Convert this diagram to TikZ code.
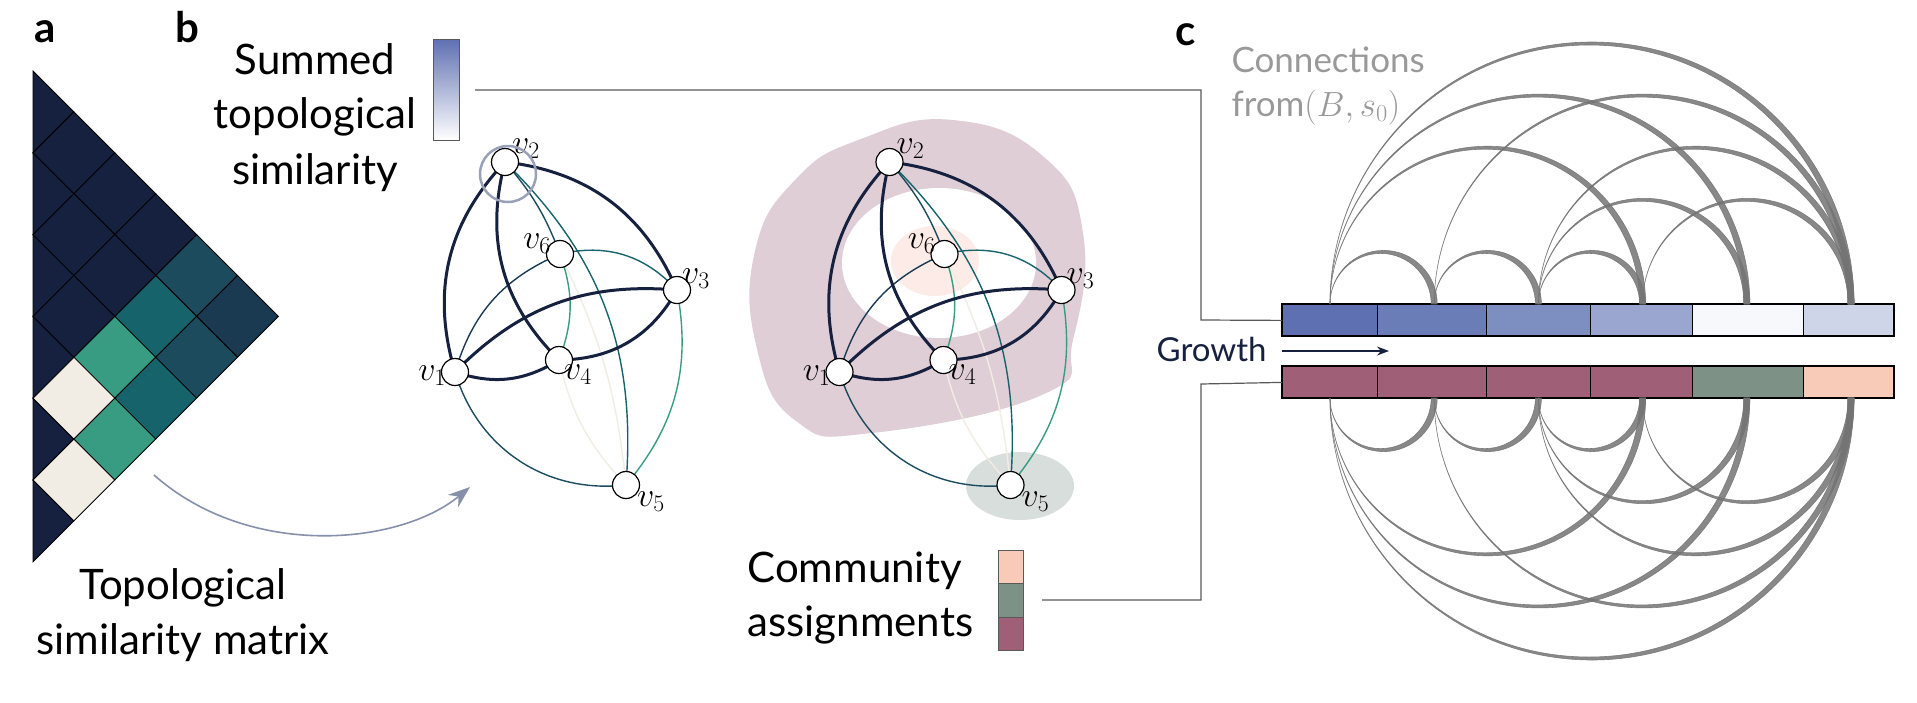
\RequirePackage{fix-cm}
\documentclass[tikz,border=0pt]{standalone}
\usepackage{fontspec}
\setmainfont{Lato}
\setsansfont{Lato}
\usetikzlibrary{calc,arrows.meta}
\definecolor{navy}{HTML}{16213F}
\definecolor{cA}{HTML}{1A3A52}
\definecolor{cB}{HTML}{1D4B5E}
\definecolor{cC}{HTML}{17636B}
\definecolor{cD}{HTML}{389C83}
\definecolor{cE}{HTML}{F1ECE4}
\definecolor{tb1}{HTML}{5F70B2}
\definecolor{tb2}{HTML}{6A7DB7}
\definecolor{tb3}{HTML}{7D8EC0}
\definecolor{tb4}{HTML}{9AA6CF}
\definecolor{tb5}{HTML}{F6F8FC}
\definecolor{tb6}{HTML}{CED5E8}
\definecolor{cm1}{HTML}{9E5F77}
\definecolor{cm2}{HTML}{7E9186}
\definecolor{cm3}{HTML}{F8CBB8}
\definecolor{blob}{HTML}{E0CED7}
\definecolor{peach}{HTML}{FCEBE6}
\definecolor{greyg}{HTML}{D8DEDB}
\definecolor{arrowc}{HTML}{8790AB}
\tikzset{
  vtx/.style={circle,draw=black,fill=white,line width=1.2pt,minimum size=27pt,inner sep=0pt},
  lab/.style={font=\fontsize{34}{34}\selectfont,inner sep=1pt},
  big/.style={font=\fontsize{42}{55}\selectfont,align=center},
  panel/.style={font=\fontsize{42}{42}\selectfont\bfseries,anchor=base},
  thick edge/.style={navy,line width=3pt},
  thin edge/.style={line width=1.4pt},
  conn/.style={draw=black!65,line width=1.2pt},
  cell/.style={draw=black,line width=0.8pt},
  arcfill/.style={fill=black!55,draw=black!55,line width=0.6pt,fill opacity=0.85,draw opacity=0.85}
}
\begin{document}
\begin{tikzpicture}[x=1pt,y=-1pt]
\useasboundingbox (0,0) rectangle (1917,702);
% ---------- panel a ----------
\def\h{40.9}
\foreach \i in {0,...,5}{
  \pgfmathsetmacro\yy{71+(2*\i+1)*\h}
  \fill[navy,cell] (33,\yy-\h) -- (33+\h,\yy) -- (33,\yy+\h) -- cycle;
}
\foreach \i/\j/\c in {0/1/navy,0/2/navy,0/3/navy,0/4/cB,0/5/cA,1/2/navy,1/3/navy,1/4/cC,1/5/cB,2/3/navy,2/4/cD,2/5/cC,3/4/cE,3/5/cD,4/5/cE}{
  \pgfmathsetmacro\xx{33+(\j-\i)*\h}
  \pgfmathsetmacro\yy{71+(\i+\j+1)*\h}
  \fill[\c,cell] (\xx-\h,\yy) -- (\xx,\yy-\h) -- (\xx+\h,\yy) -- (\xx,\yy+\h) -- cycle;
}
\node[panel] (la) at (45,42) {a};
\node[panel] (lb) at (187,42) {b};
\node[panel] (lc) at (1186,45) {c};
\node[big,anchor=center] (tsm) at (183,615) {Topological\\similarity matrix};
% ---------- blobs right graph ----------
\fill[blob] plot[smooth cycle,tension=0.8] coordinates {(953,120) (1044,157) (1083,233) (1073,340) (1044,394) (872,433) (796,421) (757,349) (755,251) (796,179) (861,139)};
\fill[white] (939,263) ellipse [x radius=97,y radius=75];
\fill[peach] (935,261) ellipse [x radius=44,y radius=35];
\fill[greyg] (1020,486) ellipse [x radius=54,y radius=34];
% ---------- graphs ----------
\foreach \s/\p in {0/L,384.5/R}{
\begin{scope}[xshift=\s]
\coordinate (\p c1) at (455,372);
\coordinate (\p c2) at (505,162);
\coordinate (\p c3) at (677,290);
\coordinate (\p c4) at (559,360);
\coordinate (\p c5) at (626,485);
\coordinate (\p c6) at (560,254);
\draw[thin edge,cE] (\p c6) to[bend left=10] (\p c5);
\draw[thin edge,cE] (\p c4) to[bend right=15] (\p c5);
\draw[thin edge,cB] (\p c2) to[bend left=10] (\p c6);
\draw[thin edge,cC] (\p c2) to[bend left=25] (\p c5);
\draw[thin edge,cA] (\p c6) to[bend right=25] (\p c1);
\draw[thin edge,cC] (\p c6) to[bend left=30] (\p c3);
\draw[thin edge,cD] (\p c6) to[bend left=20] (\p c4);
\draw[thin edge,cB] (\p c1) to[bend right=40] (\p c5);
\draw[thin edge,cD] (\p c3) to[bend left=25] (\p c5);
\draw[thick edge] (\p c2) to[bend left=30] (\p c3);
\draw[thick edge] (\p c2) to[bend right=30] (\p c1);
\draw[thick edge] (\p c2) to[bend right=30] (\p c4);
\draw[thick edge] (\p c1) to[bend left=25] (\p c3);
\draw[thick edge] (\p c1) to[bend right=25] (\p c4);
\draw[thick edge] (\p c4) to[bend right=30] (\p c3);
\foreach \k in {1,...,6}{\node[vtx] (\p\k) at (\p c\k) {};}
\node[lab,anchor=south west] (\p l2) at ($(\p2)+(6,-2)$) {$v_2$};
\node[lab,anchor=east] (\p l6) at ($(\p6)+(-8,-10)$) {$v_6$};
\node[lab,anchor=south west] (\p l3) at ($(\p3)+(4,0)$) {$v_3$};
\node[lab,anchor=east] (\p l1) at ($(\p1)+(-8,4)$) {$v_1$};
\node[lab,anchor=north west] (\p l4) at ($(\p4)+(4,4)$) {$v_4$};
\node[lab,anchor=north west] (\p l5) at ($(\p5)+(10,6)$) {$v_5$};
\end{scope}}
\draw[draw=arrowc!85,line width=2.5pt] (508,174) circle (28);
% arrow a -> b
\coordinate (as) at (154,475);
\coordinate (ae) at (470,487);
\draw[arrowc,line width=1.6pt,-{Stealth[length=22pt,width=16pt]}] (as) .. controls (250,560) and (400,545) .. (ae);
% ---------- summed similarity ----------
\node[big,anchor=base] (sum1) at (315,74) {Summed};
\node[big,anchor=base] (sum2) at (315,128) {topological};
\node[big,anchor=base] (sum3) at (315,184) {similarity};
\shade[top color=tb1,bottom color=white] (433,39) rectangle (459,140);
\draw[black!65,line width=1pt] (433,39) rectangle (459,140);
% ---------- community legend ----------
\node[big,anchor=base west,align=left] (com1) at (744,582) {Community};
\node[big,anchor=base west,align=left] (com2) at (744,636) {assignments};
\fill[cm3] (998,550) rectangle (1023,583);
\fill[cm2] (998,583) rectangle (1023,617);
\fill[cm1] (998,617) rectangle (1023,650);
\draw[black!65,line width=0.8pt] (998,550) rectangle (1023,650) (998,583) -- (1023,583) (998,617) -- (1023,617);
% ---------- panel c bars ----------
\foreach \a/\b/\c [count=\n] in {1282/1376.5/tb1,1376.5/1486/tb2,1486/1590/tb3,1590/1692/tb4,1692/1803/tb5,1803/1894/tb6}{
  \node[cell,fill=\c,minimum width=\b-\a,minimum height=32,inner sep=0,anchor=north west] (t\n) at (\a,304) {};
}
\foreach \a/\b/\c [count=\n] in {1282/1376.5/cm1,1376.5/1486/cm1,1486/1590/cm1,1590/1692/cm1,1692/1803/cm2,1803/1894/cm3}{
  \node[cell,fill=\c,minimum width=\b-\a,minimum height=32,inner sep=0,anchor=north west] (m\n) at (\a,366) {};
}
\draw[cell,line width=1.8pt] (1282,304) rectangle (1894,336);
\draw[cell,line width=1.8pt] (1282,366) rectangle (1894,398);
% connectors
\coordinate (k1) at (1201,90);
\coordinate (k2) at (1201,320);
\draw[conn] (475,90) -- (k1) -- (k2) -- (t1.west);
\coordinate (k3) at (1201,600);
\coordinate (k4) at (1201,384);
\draw[conn] (1042,600) -- (k3) -- (k4) -- (m1.west);
% growth
\node[font=\fontsize{33}{33}\selectfont,anchor=base east,text=navy] (gr) at (1270,361) {Growth};
\draw[navy,line width=1.5pt,-{Stealth[length=12pt,width=9pt]}] (1282,351) -- (1389,351);
% connections label
\node[font=\fontsize{35}{46}\selectfont,anchor=base west,text=black!40] (cn1) at (1228,72) {Connections};
\node[font=\fontsize{35}{46}\selectfont,anchor=base west,text=black!40] (cn2) at (1228,116) {from$(B,s_0)$};
% arcs
\def\dd{6}
\foreach \i/\j in {1/2,2/3,3/4,1/4,1/5,2/6,1/6,3/5,3/6,4/6}{
  \pgfmathsetmacro\xa{1330+(\i-1)*104.2}
  \pgfmathsetmacro\xb{1330+(\j-1)*104.2}
  \pgfmathsetmacro\ro{(\xb-\xa+\dd/2)/2}
  \pgfmathsetmacro\ri{(\xb-\xa-\dd/2)/2}
  \pgfmathsetmacro\xbi{\xb-\dd/2}
  \filldraw[arcfill] (\xa,304) arc[start angle=180,end angle=360,radius=\ro] -- (\xbi,304) arc[start angle=0,end angle=-180,radius=\ri] -- cycle;
  \filldraw[arcfill] (\xa,398) arc[start angle=180,end angle=0,radius=\ro] -- (\xbi,398) arc[start angle=0,end angle=180,radius=\ri] -- cycle;
}
\end{tikzpicture}
\end{document}
